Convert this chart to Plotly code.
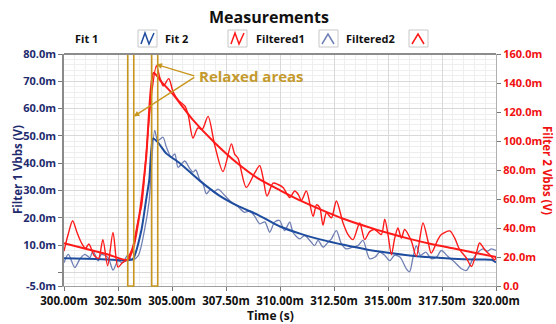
import plotly.graph_objects as go

# ---------------- data ----------------
# Fit 1 (dark blue, left axis, V in milli-units)
fit1_t = [300.0, 301.0, 302.0, 302.9, 303.2, 303.58, 303.81, 303.95, 304.12, 304.34,
          304.74, 305.36, 306.28, 307.21, 308.0, 309.0, 310.0, 311.0, 312.0, 313.0,
          314.0, 315.0, 316.0, 317.0, 318.0, 319.0, 319.8, 320.0]
fit1_v = [5.2, 5.0, 4.7, 4.4, 5.0, 15.3, 27.0, 34.0, 49.0, 47.7,
          43.5, 40.0, 33.6, 28.0, 24.5, 21.0, 16.8, 14.0, 11.8, 10.0,
          8.4, 7.2, 6.2, 5.5, 5.0, 4.7, 4.6, 3.6]

# Fit 2 (red, right axis)
fit2_t = [300.0, 301.0, 302.0, 302.95, 303.2, 303.5, 303.8, 304.15, 304.5, 305.0,
          306.0, 307.0, 308.0, 309.0, 310.0, 311.0, 312.0, 313.0, 314.0, 315.0,
          316.0, 317.0, 318.0, 319.0, 320.0]
fit2_v = [29.5, 25.7, 21.9, 18.0, 26.0, 50.0, 88.0, 147.0, 141.0, 133.0,
          114.0, 98.5, 85.0, 74.0, 66.0, 58.5, 52.0, 46.0, 41.0, 36.5,
          32.5, 29.0, 26.0, 23.0, 20.0]

# Filtered1 (slate blue, left axis)
filt1_t = [300.0, 300.2, 300.5, 300.73, 300.96, 301.2, 301.34, 301.58, 301.73, 302.04,
           302.27, 302.5, 302.7, 302.96, 303.15, 303.43, 303.74, 303.94, 304.2, 304.34,
           304.58, 304.74, 304.97, 305.13, 305.28, 305.59, 305.82, 305.97, 306.1, 306.28,
           306.44, 306.59, 306.8, 306.95, 307.13, 307.52, 307.75, 308.06, 308.36, 308.6,
           308.83, 309.06, 309.3, 309.52, 309.75, 309.98, 310.21, 310.45, 310.6, 310.91,
           311.14, 311.38, 311.6, 311.76, 312.0, 312.22, 312.38, 312.61, 312.84, 313.07,
           313.35, 313.61, 313.84, 314.15, 314.4, 314.62, 314.85, 315.08, 315.3, 315.55,
           315.85, 316.0, 316.16, 316.31, 316.5, 316.75, 317.0, 317.25, 317.47, 317.75,
           318.09, 318.4, 318.63, 318.94, 319.17, 319.4, 319.6, 319.79, 320.0]
filt1_v = [3.5, 6.6, 1.8, 4.8, 6.6, 5.4, 7.9, 4.2, 6.6, 5.4,
           0.8, 4.2, 3.5, 6.3, 4.5, 6.0, 16.0, 26.0, 52.0, 48.3,
           49.5, 45.9, 42.2, 43.4, 38.5, 40.8, 38.0, 36.7, 37.5, 34.0,
           32.4, 28.8, 30.5, 29.5, 30.5, 27.5, 25.7, 24.0, 22.0, 22.5,
           20.5, 17.8, 18.5, 14.7, 18.4, 19.0, 15.3, 18.4, 14.7, 12.3,
           13.5, 11.7, 9.8, 11.7, 9.2, 11.0, 12.3, 15.3, 10.5, 8.6,
           9.2, 9.8, 11.7, 5.0, 5.6, 7.4, 6.2, 4.3, 6.2, 5.6,
           1.3, 0.2, 5.6, 9.8, 6.2, 7.4, 5.0, 5.6, 8.0, 6.0,
           3.7, 1.3, 0.7, 5.0, 7.4, 8.6, 7.8, 8.6, 8.0]

# Filtered2 (red, right axis)
filt2_t = [300.0, 300.2, 300.4, 300.6, 300.8, 301.0, 301.15, 301.4, 301.6, 301.8,
           302.02, 302.27, 302.5, 302.7, 302.9, 303.05, 303.2, 303.43, 303.6, 303.8,
           304.05, 304.28, 304.43, 304.6, 304.85, 305.05, 305.3, 305.6, 305.75, 305.97,
           306.2, 306.4, 306.67, 306.98, 307.36, 307.75, 307.9, 308.06, 308.44, 308.83,
           309.06, 309.21, 309.4, 309.68, 309.91, 310.14, 310.45, 310.68, 310.85, 310.99,
           311.22, 311.53, 311.69, 311.84, 311.99, 312.15, 312.38, 312.61, 312.92, 313.15,
           313.38, 313.69, 313.92, 314.15, 314.38, 314.69, 314.85, 315.0, 315.16, 315.31,
           315.46, 315.62, 315.77, 316.08, 316.31, 316.62, 316.85, 317.0, 317.31, 317.47,
           317.86, 318.09, 318.32, 318.63, 318.86, 319.09, 319.24, 319.48, 319.71, 319.94,
           320.0]
filt2_v = [24.0, 36.0, 45.0, 37.0, 30.0, 26.0, 29.0, 21.0, 19.0, 32.0,
           14.0, 37.0, 13.0, 16.0, 18.0, 22.0, 28.0, 45.0, 56.0, 90.0,
           132.0, 152.0, 144.0, 138.0, 143.0, 134.0, 128.0, 124.0, 118.0, 102.0,
           109.0, 108.0, 117.0, 97.0, 79.0, 98.0, 91.0, 88.0, 68.0, 78.0,
           83.0, 75.0, 62.0, 71.0, 70.0, 68.0, 61.0, 65.5, 63.0, 59.0,
           65.5, 48.0, 56.0, 54.0, 42.0, 50.5, 47.0, 58.6, 43.5, 35.5,
           32.0, 43.5, 32.0, 37.5, 39.0, 35.5, 46.0, 35.5, 21.6, 33.0,
           40.0, 33.0, 39.0, 31.0, 20.4, 43.5, 31.0, 22.7, 32.0, 35.5,
           38.0, 33.0, 25.0, 19.3, 13.5, 22.7, 29.7, 25.0, 21.6, 18.0,
           20.0]

# highlighted "relaxed" intervals (time)
relaxed_t0 = [302.95, 304.06]
relaxed_t1 = [303.23, 304.34]

# tick labels
x_ticks = [300.0, 302.5, 305.0, 307.5, 310.0, 312.5, 315.0, 317.5, 320.0]
x_ticktext = ["300.00m", "302.50m", "305.00m", "307.50m", "310.00m",
              "312.50m", "315.00m", "317.50m", "320.00m"]
y1_ticks = [-5, 0, 10, 20, 30, 40, 50, 60, 70, 80]
y1_ticktext = ["-5.0m", "", "10.0m", "20.0m", "30.0m", "40.0m", "50.0m",
               "60.0m", "70.0m", "80.0m"]
y2_ticks = [0, 20, 40, 60, 80, 100, 120, 140, 160]
y2_ticktext = ["0.0", "20.0m", "40.0m", "60.0m", "80.0m", "100.0m",
               "120.0m", "140.0m", "160.0m"]

legend_labels = ["Fit 1", "Fit 2", "Filtered1", "Filtered2"]

# ---------------- styling ----------------
W, H = 556, 324
L, R, T, B = 64, 60, 54, 38
PW, PH = W - L - R, H - T - B
FONT = "Open Sans"
RED = "#FF1A1A"
NAVY = "#1E4C9E"
SLATE = "#7080B4"
GOLD = "#C8961E"
NAVY_TXT = "#1F2B6E"


def xp(px):
    return (px - L) / PW


def yp(py):
    return (H - B - py) / PH


fig = go.Figure()
fig.add_trace(go.Scatter(x=filt1_t, y=filt1_v, mode="lines", name="Filtered1",
                         line=dict(color=SLATE, width=1.3, shape="spline", smoothing=0.8)))
fig.add_trace(go.Scatter(x=fit1_t, y=fit1_v, mode="lines", name="Fit 1",
                         line=dict(color=NAVY, width=2, shape="spline", smoothing=0.6)))
fig.add_trace(go.Scatter(x=filt2_t, y=filt2_v, mode="lines", name="Filtered2", yaxis="y2",
                         line=dict(color=RED, width=1.4, shape="spline", smoothing=0.8)))
fig.add_trace(go.Scatter(x=fit2_t, y=fit2_v, mode="lines", name="Fit 2", yaxis="y2",
                         line=dict(color=RED, width=2, shape="spline", smoothing=0.6)))

shapes = []
# relaxed-area rectangles
for a, b in zip(relaxed_t0, relaxed_t1):
    shapes.append(dict(type="rect", xref="x", yref="paper", x0=a, x1=b, y0=0, y1=1,
                       line=dict(color=GOLD, width=1.6), fillcolor="rgba(0,0,0,0)", layer="above"))
# top border
shapes.append(dict(type="line", xref="paper", yref="paper", x0=0, x1=1, y0=1, y1=1,
                   line=dict(color="#8C8C8C", width=2)))

# custom legend (label then icon)
annotations = []
label_x = [73, 163, 254, 344]
icon_x = [138, 228, 319, 409]
icon_col = [NAVY, RED, SLATE, RED]
icon_kind = ["n", "n", "peak", "peak"]
for lab, lx, ix, col, kind in zip(legend_labels, label_x, icon_x, icon_col, icon_kind):
    annotations.append(dict(text="<b>%s</b>" % lab, xref="paper", yref="paper",
                            x=xp(lx), y=yp(39), xanchor="left", yanchor="middle",
                            showarrow=False, font=dict(family=FONT, size=11, color="#111")))
    shapes.append(dict(type="rect", xref="paper", yref="paper",
                       x0=xp(ix), x1=xp(ix + 19), y0=yp(47), y1=yp(30),
                       line=dict(color="#C8C8C8", width=1), fillcolor="white"))
    if kind == "n":
        pts = [(ix + 3, 44), (ix + 7, 33), (ix + 11, 44), (ix + 16, 33)]
    else:
        pts = [(ix + 3, 44), (ix + 9, 34), (ix + 15, 44)]
    path = "M " + " L ".join("%f,%f" % (xp(a), yp(b)) for a, b in pts)
    shapes.append(dict(type="path", xref="paper", yref="paper", path=path,
                       line=dict(color=col, width=1.5)))

# axis titles as annotations
annotations.append(dict(text="<b>Filter 1 Vbbs (V)</b>", xref="paper", yref="paper",
                        x=xp(17), y=0.5, textangle=-90, showarrow=False,
                        xanchor="center", yanchor="middle",
                        font=dict(family=FONT, size=11.5, color=NAVY_TXT)))
annotations.append(dict(text="<b>Filter 2 Vbbs (V)</b>", xref="paper", yref="paper",
                        x=xp(548), y=0.5, textangle=90, showarrow=False,
                        xanchor="center", yanchor="middle",
                        font=dict(family=FONT, size=11.5, color="#F01010")))
annotations.append(dict(text="<b>Time (s)</b>", xref="paper", yref="paper",
                        x=xp(270), y=yp(315), showarrow=False,
                        xanchor="center", yanchor="middle",
                        font=dict(family=FONT, size=12, color="#111")))

# Relaxed areas callout
tail_t, tail_v = 306.1, 71.8
annotations.append(dict(text="<b>Relaxed areas</b>", xref="x", yref="y",
                        x=tail_t + 0.05, y=tail_v, xanchor="left", yanchor="middle",
                        showarrow=False, font=dict(family=FONT, size=15, color="#C49A2E")))
for ht, hv in [(304.28, 76.2), (relaxed_t1[0], 57.1)]:
    annotations.append(dict(text="", x=ht, y=hv, xref="x", yref="y",
                            ax=tail_t, ay=tail_v, axref="x", ayref="y",
                            showarrow=True, arrowhead=2, arrowsize=0.8, arrowwidth=1.4,
                            arrowcolor=GOLD))

fig.update_layout(
    width=W, height=H, margin=dict(l=L, r=R, t=T, b=B, pad=0),
    paper_bgcolor="white", plot_bgcolor="white", showlegend=False,
    font=dict(family=FONT, size=11, color="#111"),
    title=dict(text="<b>Measurements</b>", xref="container", yref="container",
               x=269 / W, y=1 - 17 / H, xanchor="center", yanchor="middle",
               font=dict(family=FONT, size=16, color="#111")),
    xaxis=dict(range=[300, 320], tickvals=x_ticks, ticktext=x_ticktext,
               showgrid=True, gridcolor="#D9D9D9", gridwidth=1,
               minor=dict(dtick=0.5, tick0=300, showgrid=True, gridcolor="#EEEEEE"),
               ticks="outside", ticklen=4, tickcolor="#777",
               showline=True, linecolor="#A0A0A0", linewidth=1, zeroline=False,
               tickfont=dict(family=FONT, size=11.5, color="#111", weight="bold")),
    yaxis=dict(range=[-5, 80], tickvals=y1_ticks, ticktext=y1_ticktext,
               showgrid=True, gridcolor="#D9D9D9", gridwidth=1,
               minor=dict(dtick=2, tick0=0, showgrid=True, gridcolor="#EEEEEE"),
               ticks="outside", ticklen=4, tickcolor="#777",
               showline=True, linecolor="#8A8A8A", linewidth=1.5, zeroline=False,
               tickfont=dict(family=FONT, size=11, color=NAVY_TXT, weight="bold")),
    yaxis2=dict(range=[0, 160], tickvals=y2_ticks, ticktext=y2_ticktext,
                overlaying="y", side="right", showgrid=False, zeroline=False,
                ticks="outside", ticklen=4, tickcolor="#777",
                showline=True, linecolor="#B0B0B0", linewidth=1,
                tickfont=dict(family=FONT, size=11, color="#F01010", weight="bold")),
    shapes=shapes, annotations=annotations,
)

fig.write_html("out.html", config={"displayModeBar": False},
               post_script="document.body.style.margin='0px';document.body.style.overflow='hidden';")
